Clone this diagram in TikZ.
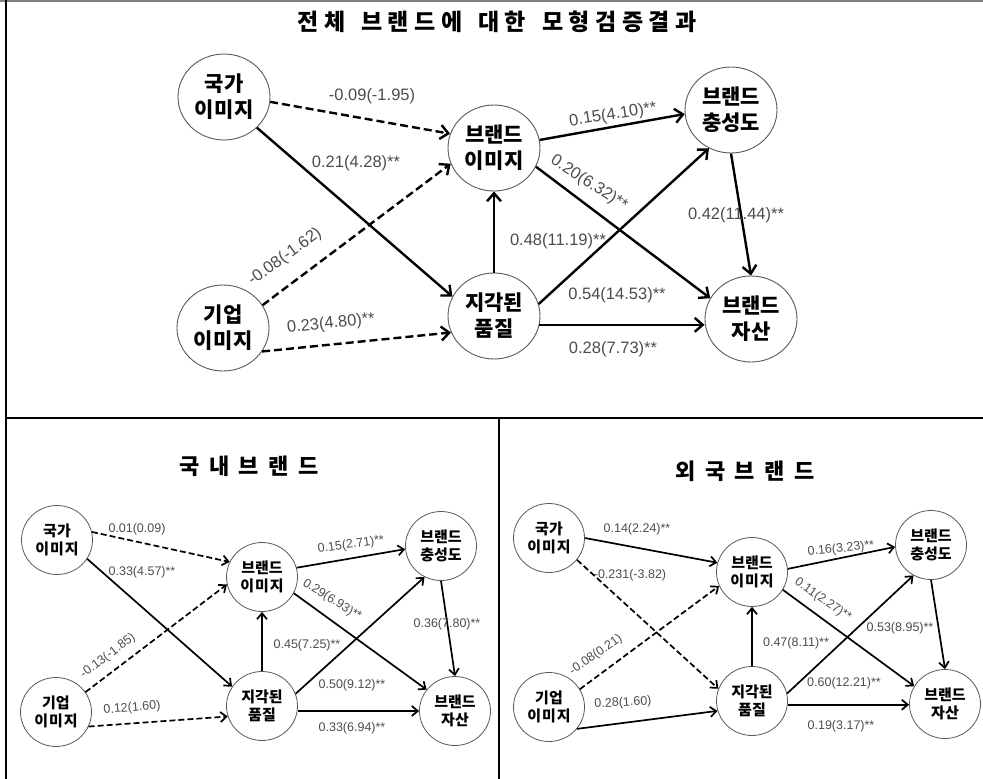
\documentclass[tikz,border=0pt]{standalone}
\usepackage{fontspec}
\setmainfont{Liberation Sans}
\newfontfamily\kr{Noto Sans CJK KR}
\usetikzlibrary{arrows.meta,shapes.geometric}
\def\ltk{\kern5.5pt}
\def\btk{\kern9.5pt}
\def\ntk{\kern1pt}
\tikzset{
  bignode/.style={ellipse, draw=black!65, line width=0.9pt, minimum width=92pt, minimum height=86pt, inner sep=0pt, align=center, font=\kr\bfseries\fontsize{21}{26}\selectfont},
  smallnode/.style={ellipse, draw=black!65, line width=0.8pt, minimum width=71pt, minimum height=69pt, inner sep=0pt, align=center, font=\kr\bfseries\fontsize{15}{18}\selectfont},
  bigarr/.style={line width=2.4pt, -{Straight Barb[length=8pt,width=14pt]}},
  smarr/.style={line width=1.7pt, -{Straight Barb[length=6pt,width=10pt]}},
  bigdsh/.style={dash pattern=on 8pt off 4pt},
  smdsh/.style={dash pattern=on 6pt off 3pt},
  biglab/.style={inner sep=0pt, text=black!70, font=\fontsize{16.5}{17}\selectfont},
  smlab/.style={inner sep=0pt, text=black!70, font=\fontsize{12.5}{13}\selectfont},
  ttl/.style={inner sep=0pt, font=\kr\bfseries},
}
\begin{document}
\begin{tikzpicture}[x=1pt,y=-1pt]
\useasboundingbox (0,0) rectangle (983,779);
% frame
\draw[black!50, line width=2pt] (0,1) -- (983,1);
\draw[black, line width=1.2pt] (6,0) -- (6,779);
\draw[black, line width=1.2pt] (6,418) -- (983,418);
\draw[black, line width=1.2pt] (499,418) -- (499,779);

% titles
\node[ttl] (title) at (497,22) {\fontsize{23}{23}\selectfont 전\ltk 체\hspace{16pt}브\ltk 랜\ltk 드\ltk 에\hspace{16pt}대\ltk 한\hspace{16pt}모\ltk 형\ltk 검\ltk 증\ltk 결\ltk 과};
\node[ttl] (titleL) at (249,466) {\fontsize{22}{22}\selectfont 국\btk 내\btk 브\btk 랜\btk 드};
\node[ttl] (titleR) at (745,471) {\fontsize{22}{22}\selectfont 외\btk 국\btk 브\btk 랜\btk 드};

% ---------- top panel ----------
\node[bignode] (Tgk) at (224,97) {국가\\이\ntk 미\ntk 지};
\node[bignode] (Tgu) at (223,328) {기업\\이\ntk 미\ntk 지};
\node[bignode] (Tbi) at (494,148) {브랜드\\이\ntk 미\ntk 지};
\node[bignode] (Tpq) at (494,316) {지각된\\품질};
\node[bignode] (Tbl) at (731,110) {브랜드\\충성도};
\node[bignode] (Tbe) at (751,319) {브랜드\\자산};

\draw[bigarr, bigdsh] (Tgk.-6) -- (Tbi.162);
\draw[bigarr] (Tgk.-43) -- (Tpq.155);
\draw[bigarr, bigdsh] (Tgu.30) -- (Tbi.200);
\draw[bigarr, bigdsh] (Tgu.-31) -- (Tpq.201);
\draw[bigarr] (Tpq.north) -- (Tbi.south);
\draw[bigarr] (Tbi.10) -- (Tbl.185);
\draw[bigarr] (Tbi.-24) -- (Tbe.153);
\draw[bigarr] (Tpq.15) -- (Tbl.240);
\coordinate (T1) at (Tpq.-11);
\draw[bigarr] (T1) -- (T1 -| Tbe.west);
\draw[bigarr] (Tbl.-90) -- (Tbe.90);

\node[biglab] (Ta) at (372,96) {-0.09(-1.95)};
\node[biglab] (Tb) at (356,163) {0.21(4.28)**};
\node[biglab, rotate=36] (Tc) at (285,257) {-0.08(-1.62)};
\node[biglab, rotate=6] (Td) at (331,324) {0.23(4.80)**};
\node[biglab] (Te) at (558,241) {0.48(11.19)**};
\node[biglab, rotate=9] (Tf) at (613,115) {0.15(4.10)**};
\node[biglab, rotate=-33] (Tg) at (589,183) {0.20(6.32)**};
\node[biglab] (Th) at (617,295) {0.54(14.53)**};
\node[biglab] (Ti) at (613,349) {0.28(7.73)**};
\node[biglab] (Tj) at (736,215) {0.42(11.44)**};

% ---------- bottom left ----------
\node[smallnode] (Lgk) at (57,540) {국가\\이\ntk 미\ntk 지};
\node[smallnode] (Lgu) at (56,712) {기업\\이\ntk 미\ntk 지};
\node[smallnode] (Lbi) at (262,577) {브랜드\\이\ntk 미\ntk 지};
\node[smallnode] (Lpq) at (262,706) {지각된\\품질};
\node[smallnode] (Lbl) at (441,546) {브랜드\\충성도};
\node[smallnode] (Lbe) at (455,711) {브랜드\\자산};

\draw[smarr, smdsh] (Lgk.13) -- (Lbi.155);
\draw[smarr] (Lgk.-32) -- (Lpq.147);
\draw[smarr, smdsh] (Lgu.34) -- (Lbi.192);
\draw[smarr, smdsh] (Lgu.-24) -- (Lpq.197);
\draw[smarr] (Lpq.north) -- (Lbi.south);
\draw[smarr] (Lbi.15) -- (Lbl.185);
\draw[smarr] (Lbi.-27) -- (Lbe.143);
\draw[smarr] (Lpq.20) -- (Lbl.242);
\coordinate (L1) at (Lpq.-8);
\draw[smarr] (L1) -- (L1 -| Lbe.west);
\draw[smarr] (Lbl.-90) -- (Lbe.90);

\node[smlab] (La) at (137,529) {0.01(0.09)};
\node[smlab] (Lb) at (142,572) {0.33(4.57)**};
\node[smlab, rotate=37] (Lc) at (108,656) {-0.13(-1.85)};
\node[smlab, rotate=5] (Ld) at (132,708) {0.12(1.60)};
\node[smlab, rotate=8] (Le) at (351,545) {0.15(2.71)**};
\node[smlab, rotate=-32] (Lf) at (332,600) {0.29(6.93)**};
\node[smlab] (Lg) at (307,645) {0.45(7.25)**};
\node[smlab] (Lh) at (447,624) {0.36(7.80)**};
\node[smlab] (Li) at (352,685) {0.50(9.12)**};
\node[smlab] (Lj) at (352,728) {0.33(6.94)**};

% ---------- bottom right ----------
\node[smallnode] (Rgk) at (549,538) {국가\\이\ntk 미\ntk 지};
\node[smallnode] (Rgu) at (549,707) {기업\\이\ntk 미\ntk 지};
\node[smallnode] (Rbi) at (752,572) {브랜드\\이\ntk 미\ntk 지};
\node[smallnode] (Rpq) at (752,701) {지각된\\품질};
\node[smallnode] (Rbl) at (931,545) {브랜드\\충성도};
\node[smallnode] (Rbe) at (945,704) {브랜드\\자산};

\draw[smarr] (Rgk.0) -- (Rbi.165);
\draw[smarr, smdsh] (Rgk.-38) -- (Rpq.160);
\draw[smarr, smdsh] (Rgu.30) -- (Rbi.203);
\draw[smarr] (Rgu.-38) -- (Rpq.196);
\draw[smarr] (Rpq.north) -- (Rbi.south);
\draw[smarr] (Rbi.5) -- (Rbl.183);
\draw[smarr] (Rbi.-30) -- (Rbe.150);
\draw[smarr] (Rpq.12) -- (Rbl.240);
\coordinate (R1) at (Rpq.-6);
\draw[smarr] (R1) -- (R1 -| Rbe.west);
\draw[smarr] (Rbl.-90) -- (Rbe.90);

\node[smlab] (Ra) at (637,529) {0.14(2.24)**};
\node[smlab] (Rb) at (630,575) {-0.231(-3.82)};
\node[smlab, rotate=35] (Rc) at (596,655) {-0.08(0.21)};
\node[smlab, rotate=3] (Rd) at (623,703) {0.28(1.60)};
\node[smlab, rotate=6] (Re) at (841,549) {0.16(3.23)**};
\node[smlab, rotate=-35] (Rf) at (823,600) {0.11(2.27)**};
\node[smlab] (Rg) at (900,628) {0.53(8.95)**};
\node[smlab] (Rh) at (796,643) {0.47(8.11)**};
\node[smlab] (Ri) at (844,683) {0.60(12.21)**};
\node[smlab] (Rj) at (841,726) {0.19(3.17)**};
\end{tikzpicture}
\end{document}
